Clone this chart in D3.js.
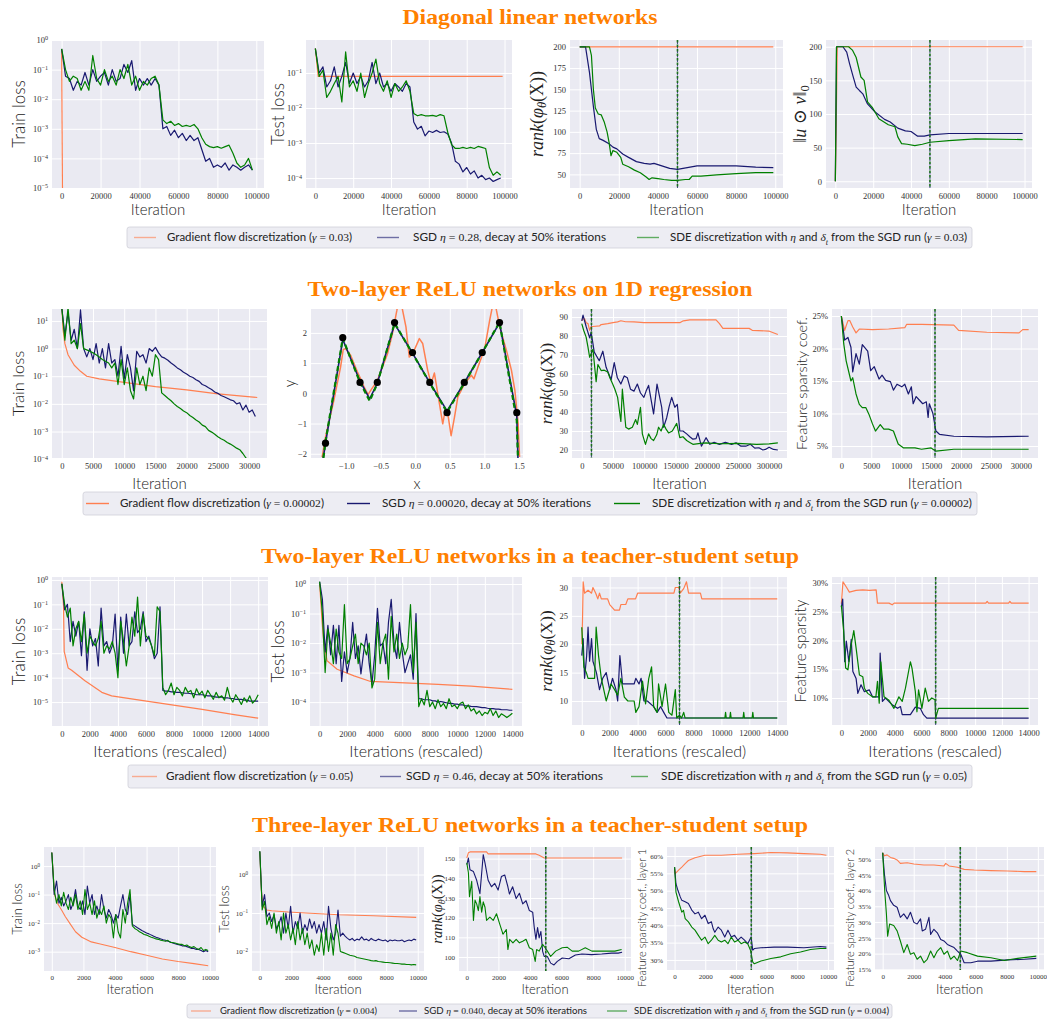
<!DOCTYPE html>
<html>
<head>
<meta charset="utf-8">
<title>GF vs SGD vs SDE</title>
<script src="https://cdn.jsdelivr.net/npm/d3@7"></script>
<style>body{margin:0;background:#fff}</style>
</head>
<body>
<svg id="mainsvg" width="1047" height="1019"></svg>
<script>
// ---------------- data ----------------
// legend parameters per row
const rowTitles = ['Diagonal linear networks', 'Two-layer ReLU networks on 1D regression',
  'Two-layer ReLU networks in a teacher-student setup', 'Three-layer ReLU networks in a teacher-student setup'];
const legendGamma = ['0.03', '0.00002', '0.05', '0.004'];
const legendEta = ['0.28', '0.00020', '0.46', '0.040'];

// tick labels
const ticks100k = [0, 20000, 40000, 60000, 80000, 100000];
const ticks30k = [0, 5000, 10000, 15000, 20000, 25000, 30000];
const ticks300k = [0, 50000, 100000, 150000, 200000, 250000, 300000];
const ticks14k = [0, 2000, 4000, 6000, 8000, 10000, 12000, 14000];
const ticks10k = [0, 2000, 4000, 6000, 8000, 10000];
const ticksRegX = [-1, -0.5, 0, 0.5, 1, 1.5];

// row 1: diagonal linear networks (noisy series every 2000 iterations)
const dlnStep = 2000;
const dlnTrainGf = [[0, 0.5], [600, 1e-7]];
const dlnTrainSgd = [0.5, 0.06, 0.05, 0.02, 0.04, 0.03, 0.08, 0.03, 0.1, 0.04,
  0.06, 0.08, 0.03, 0.1, 0.04, 0.05, 0.15, 0.08, 0.2, 0.02,
  0.05, 0.03, 0.05, 0.03, 0.05, 0.03, 1e-3, 1.2e-3, 6e-4, 9e-4,
  5e-4, 7e-4, 4e-4, 6e-4, 4e-4, 5e-4, 2e-4, 8e-5, 1e-4, 5e-5,
  6e-5, 5e-5, 7e-5, 4e-5, 6e-5, 5e-5, 4e-5, 5e-5, 6e-5, 4e-5];
const dlnTrainSde = [0.5, 0.1, 0.04, 0.06, 0.05, 0.02, 0.04, 0.02, 0.3, 0.05,
  0.03, 0.1, 0.04, 0.06, 0.03, 0.1, 0.05, 0.15, 0.03, 0.06,
  0.02, 0.04, 0.03, 0.05, 0.06, 0.03, 2e-3, 1.5e-3, 1.8e-3, 1.3e-3,
  1.5e-3, 1.2e-3, 1.3e-3, 1.2e-3, 1.4e-3, 1e-3, 5e-4, 3e-4, 2.5e-4, 2.3e-4,
  2.5e-4, 2.2e-4, 2.5e-4, 2.8e-4, 1.5e-4, 7e-5, 5e-5, 6e-5, 1e-4, 4e-5];
const dlnTestGf = [[0, 0.5], [1500, 0.08], [99000, 0.08]];
const dlnTestSgd = [0.5, 0.1, 0.15, 0.04, 0.06, 0.15, 0.04, 0.08, 0.2, 0.05,
  0.1, 0.05, 0.08, 0.04, 0.06, 0.2, 0.05, 0.1, 0.04, 0.05,
  0.03, 0.05, 0.04, 0.03, 0.05, 0.04, 4e-3, 2.5e-3, 3e-3, 1.6e-3,
  2.2e-3, 2e-3, 2.3e-3, 2e-3, 2.1e-3, 1.8e-3, 1e-3, 3e-4, 2.5e-4, 1.5e-4,
  2e-4, 1.3e-4, 1.6e-4, 1e-4, 1.2e-4, 9e-5, 1e-4, 8e-5, 9e-5, 1e-4];
const dlnTestSde = [0.5, 0.08, 0.12, 0.02, 0.03, 0.05, 0.08, 0.015, 0.4, 0.04,
  0.06, 0.03, 0.1, 0.02, 0.05, 0.1, 0.25, 0.05, 0.03, 0.06,
  0.02, 0.05, 0.03, 0.04, 0.06, 0.03, 7e-3, 6e-3, 6.5e-3, 6e-3,
  6e-3, 6.2e-3, 5.8e-3, 6.5e-3, 6e-3, 2e-3, 9e-4, 7e-4, 7e-4, 7.5e-4,
  7e-4, 7.5e-4, 7e-4, 8e-4, 7.5e-4, 7e-4, 2e-4, 1.2e-4, 1.5e-4, 1.2e-4];
const dlnRankGf = [[0, 200], [99000, 200]];
const dlnRankSgd = [[0, 200], [3000, 200], [5000, 170], [7000, 130], [8500, 103], [10000, 92], [12000, 90],
  [15000, 86], [17000, 82], [19000, 80], [22000, 74], [25000, 70], [29000, 65], [33000, 63], [36000, 62],
  [38000, 63], [42000, 60], [46000, 57], [50000, 56], [55000, 58], [60000, 60], [70000, 60], [80000, 60],
  [90000, 58.5], [99000, 58]];
const dlnRankSde = [[0, 200], [5000, 200], [6000, 190], [7000, 150], [8000, 128], [9500, 121], [11000, 120],
  [12500, 112], [14000, 100], [15000, 88], [16000, 72], [17000, 78], [19000, 76], [21000, 70], [22000, 62],
  [25000, 59], [28000, 55], [31000, 52], [34000, 47], [35500, 44], [37000, 46], [40000, 45], [43000, 44],
  [47000, 43], [50000, 43], [54000, 44], [56000, 44], [57500, 48], [62000, 48], [70000, 49.5], [80000, 51],
  [90000, 52], [99000, 52]];
const dlnNormGf = [[0, 0], [1000, 200], [99000, 200]];
const dlnNormSgd = [[0, 0], [600, 200], [4000, 200], [6000, 192], [7500, 175], [9250, 157], [11000, 140],
  [12700, 135], [14500, 130], [17000, 115], [21000, 103], [26000, 92], [29000, 88], [33000, 79], [37000, 75],
  [40000, 74], [43500, 67], [47000, 67], [50000, 69], [60000, 71], [80000, 71], [99000, 71]];
const dlnNormSde = [[0, 0], [600, 200], [7000, 200], [9000, 195], [11000, 184], [13500, 155], [15200, 150],
  [17000, 118], [19500, 110], [23000, 93], [28000, 84], [31500, 81], [33000, 66], [35000, 56], [38000, 55],
  [42000, 53], [46000, 55], [50000, 58], [60000, 60.5], [74000, 63], [99000, 62]];

// row 2: two-layer ReLU, 1D regression (train loss every 500 iterations)
const regStep = 500;
const regTrainGf = [[0, 40], [200, 5], [500, 1.5], [1000, 0.6], [2000, 0.25], [3000, 0.15], [4000, 0.1],
  [6000, 0.08], [10000, 0.06], [15000, 0.042], [20000, 0.032], [25000, 0.023], [31300, 0.017]];
const regTrainSgd = [30, 3, 20, 2, 5, 1, 25, 1, 0.5, 1,
  0.4, 1.5, 0.3, 1, 0.2, 1.5, 0.3, 0.4, 0.1, 1.2,
  0.08, 0.6, 0.2, 0.03, 0.8, 0.5, 0.6, 0.3, 1, 0.8,
  1.1, 0.7, 0.5, 0.45, 0.38, 0.3, 0.25, 0.2, 0.17, 0.14,
  0.12, 0.1, 0.09, 0.075, 0.065, 0.05, 0.045, 0.038, 0.033, 0.027,
  0.024, 0.02, 0.018, 0.016, 0.014, 0.013, 0.01, 0.011, 0.006, 0.009,
  0.005, 0.006, 0.0035];
const regTrainSde = [30, 2, 30, 1.5, 2, 1, 8, 1, 0.9, 0.8,
  0.7, 0.6, 0.5, 0.4, 0.35, 0.3, 0.2, 0.3, 0.05, 0.4,
  0.05, 0.2, 0.03, 0.015, 0.2, 0.05, 0.1, 0.03, 0.2, 0.1,
  0.6, 0.4, 0.025, 0.02, 0.016, 0.013, 0.01, 0.008, 0.0068, 0.0055,
  0.0048, 0.0038, 0.0032, 0.0026, 0.0022, 0.0017, 0.0015, 0.0011, 0.00095, 0.0008,
  0.00065, 0.00055, 0.00048, 0.0004, 0.00035, 0.0003, 0.00025, 0.00022, 0.00016, 0.00011,
  0.000095, 0.00008, 0.00006];
const regPointsX = [-1.30, -1.05, -0.80, -0.55, -0.30, -0.04, 0.21, 0.46, 0.71, 0.97, 1.22, 1.47];
const regPointsY = [-1.65, 1.84, 0.36, 0.36, 2.34, 1.35, 0.36, -0.64, 0.36, 1.35, 2.34, -0.64];
const regFitGf = [[-1.349, -2.11], [-1.30, -1.45], [-1.179, -0.23], [-1.082, 0.87], [-1.043, 1.45], [-1.009, 1.48],
  [-0.936, 1.26], [-0.839, 0.71], [-0.791, 0.48], [-0.742, 0.21], [-0.684, -0.04], [-0.645, 0.10], [-0.548, 0.43],
  [-0.402, 1.31], [-0.33, 1.98], [-0.266, 2.75], [-0.23, 3.3], [-0.184, 2.75], [-0.135, 2.2], [-0.087, 1.2],
  [-0.038, 1.31], [0.059, 1.81], [0.107, 1.65], [0.18, 0.76], [0.229, 0.32], [0.277, 0.67], [0.326, -0.01],
  [0.398, -1.01], [0.432, -0.57], [0.471, -0.68], [0.519, -1.40], [0.568, -0.79], [0.617, -0.12], [0.714, 0.32],
  [0.811, 0.60], [0.85, 0.48], [0.908, 0.87], [1.005, 1.48], [1.078, 2.42], [1.126, 2.97], [1.15, 3.1],
  [1.175, 2.75], [1.223, 2.2], [1.32, 1.42], [1.393, 0.76], [1.442, 0.10], [1.49, -1.01], [1.51, -2.11]];
const regFitSgd = [[-1.35, -2.4], [-1.30, -1.65], [-1.05, 1.78], [-0.80, 0.40], [-0.66, -0.18], [-0.55, 0.33],
  [-0.30, 2.30], [-0.04, 1.33], [0.21, 0.35], [0.46, -0.58], [0.71, 0.35], [0.97, 1.35], [1.22, 2.33],
  [1.47, -0.75], [1.49, -2.4]];
const regFitSde = [[-1.345, -2.4], [-1.30, -1.6], [-1.05, 1.82], [-0.80, 0.36], [-0.66, -0.25], [-0.55, 0.32],
  [-0.30, 2.32], [-0.04, 1.32], [0.21, 0.34], [0.46, -0.62], [0.71, 0.34], [0.97, 1.35], [1.22, 2.35],
  [1.47, -0.9], [1.49, -2.4]];
const regRankGf = [[0, 88], [2100, 89], [4700, 89], [7000, 87], [10000, 86.5], [12600, 83], [15000, 85], [17900, 85],
  [28400, 85.3], [31000, 86], [41600, 86.5], [50000, 87], [57400, 87.4], [62600, 88], [70000, 87.5], [83700, 87.4],
  [99500, 87], [157000, 87], [162600, 88], [173000, 88.5], [215000, 88.5], [220500, 86.5], [226000, 84],
  [268000, 84], [273000, 83], [299500, 82.6], [314000, 80.8]];
const regRankSgd = [[0, 88], [2000, 91], [7000, 85], [12600, 79], [15000, 82], [20000, 71.5], [28000, 67], [33700, 72],
  [39000, 63.5], [47000, 57], [52000, 66], [57000, 58], [62600, 54.7], [68000, 59], [73000, 58], [78000, 52],
  [83700, 51], [89000, 54.7], [94000, 50], [99500, 47.7], [103000, 51], [107000, 54], [115000, 39], [120500, 54.7],
  [128000, 42.5], [131000, 32], [136000, 37], [140000, 43], [144000, 47.7], [149000, 42.5], [153000, 44],
  [157000, 30], [162000, 30], [168000, 28.5], [173000, 27], [178000, 25.7], [183000, 26], [186000, 29],
  [191600, 22], [195000, 24], [199000, 26.5], [205000, 23], [212000, 24], [220500, 23], [230000, 24],
  [240000, 23], [247000, 23.8], [255000, 22], [262600, 22], [270000, 23], [277000, 21], [283700, 21.2],
  [290000, 20], [294000, 20.3], [300000, 21.5], [307000, 20.3], [314000, 20]];
const regRankSde = [[0, 86.5], [3000, 83], [7000, 79.4], [10000, 74], [12600, 68.8], [17900, 73], [23000, 56],
  [25800, 65], [31000, 61.8], [36000, 62], [41600, 61], [45000, 58], [49500, 54.7], [53000, 52], [57400, 47.7],
  [62600, 35], [65000, 52], [70500, 32], [75000, 31], [81000, 32], [86300, 36], [89000, 33.5], [94000, 42.5],
  [97000, 28.5], [102000, 23], [107000, 28.5], [111000, 26], [115000, 25], [120000, 28], [123000, 32],
  [127000, 30], [131000, 33.5], [135000, 31], [139000, 29], [145000, 30], [152000, 34], [157000, 26.5],
  [162000, 27], [168000, 25], [173000, 24], [178000, 23], [190000, 23.5], [199000, 23.8], [220000, 23.3],
  [250000, 23.5], [280000, 23], [300000, 23.2], [314000, 23.8]];
const regSparseGf = [[0, 25], [550, 22.8], [1100, 24.3], [1400, 24.3], [1900, 23.3], [2450, 22.4], [3000, 23],
  [5200, 22.9], [7900, 23], [10600, 23.2], [10900, 23.7], [13400, 23.7], [18800, 23.6], [19600, 22.8],
  [24300, 22.5], [29700, 22.4], [30300, 22.9], [31300, 22.9]];
const regSparseSgd = [[0, 25], [550, 21.3], [1100, 21.7], [1600, 20.2], [1900, 16.4], [2450, 19.2], [3000, 17.6],
  [3500, 20.6], [4400, 19.6], [4900, 16.6], [5500, 17.2], [6300, 15.3], [6800, 15.9], [7400, 15.1], [8200, 14.9],
  [8700, 13.6], [9300, 14.5], [10100, 14.1], [10600, 14.5], [11200, 13], [11700, 14.1], [12000, 11.5],
  [12500, 12.6], [13100, 12], [13600, 11.5], [14200, 11.8], [14500, 9.4], [14700, 11.5], [15300, 10],
  [15800, 7.3], [16400, 6.8], [18800, 6.5], [24300, 6.4], [31300, 6.5]];
const regSparseSde = [[0, 25], [400, 20.7], [800, 18.1], [1600, 15], [1900, 15.5], [2450, 13], [3000, 11.4],
  [3500, 10.9], [4100, 10.9], [4600, 9.9], [5200, 8.4], [5700, 7.3], [6500, 8.3], [7100, 7.6], [7900, 7.6],
  [8700, 7.3], [9500, 5.3], [10400, 4.7], [12300, 4.7], [13400, 4.5], [15000, 4.7], [15800, 4.2],
  [18800, 4.5], [31300, 4.5]];

// row 3: two-layer ReLU, teacher-student (losses every 200 rescaled iterations)
const tsStep = 200;
const tsTrainGf = [[0, 0.85], [120, 0.09], [170, 1.2e-3], [450, 2.5e-4], [700, 2e-4], [1650, 7.5e-5],
  [2850, 2.5e-5], [3550, 1.8e-5], [5200, 1.3e-5], [7600, 8e-6], [10000, 5e-6], [12400, 3e-6], [14000, 2.2e-6]];
const tsTrainSgd = [0.7, 0.06, 0.1, 0.003, 0.02, 0.005, 0.02, 0.0008, 0.05, 0.0002,
  0.01, 0.002, 0.004, 0.0003, 0.07, 0.002, 0.003, 0.001, 0.002, 0.04,
  0.0002, 0.03, 0.001, 0.04, 0.002, 0.003, 0.05, 0.007, 0.01, 0.05,
  0.003, 0.005, 0.002, 0.0006, 0.001, 0.08, 3e-5, 2.8e-5, 2.8e-5, 2.6e-5,
  2.6e-5, 2.5e-5, 2.5e-5, 2.4e-5, 2.3e-5, 2.3e-5, 2.2e-5, 2.2e-5, 2e-5, 2e-5,
  2e-5, 1.9e-5, 1.8e-5, 1.8e-5, 1.7e-5, 1.6e-5, 1.6e-5, 1.6e-5, 1.5e-5, 1.5e-5,
  1.4e-5, 1.4e-5, 1.3e-5, 1.3e-5, 1.3e-5, 1.2e-5, 1.2e-5, 1.1e-5, 1.1e-5, 1.1e-5,
  1.1e-5];
const tsTrainSde = [0.7, 0.1, 0.03, 0.07, 0.002, 0.01, 0.02, 0.003, 0.04, 0.001,
  0.005, 0.003, 0.002, 0.004, 0.02, 0.001, 0.002, 0.0015, 0.003, 0.001,
  0.0001, 0.02, 0.003, 0.0003, 0.002, 0.03, 0.005, 0.2, 0.002, 0.04,
  0.005, 0.004, 0.002, 0.0008, 0.08, 0.05, 4e-5, 2e-5, 3e-5, 6e-5,
  2e-5, 4e-5, 3e-5, 1.8e-5, 4e-5, 2.5e-5, 3e-5, 1.5e-5, 3.5e-5, 2e-5,
  2.8e-5, 1.5e-5, 3e-5, 2e-5, 1.3e-5, 2.5e-5, 1.5e-5, 1.8e-5, 1.2e-5, 4e-5,
  1.5e-5, 1e-5, 2e-5, 1.3e-5, 8e-6, 1.5e-5, 1e-5, 1.8e-5, 9e-6, 1.2e-5,
  2e-5];
const tsTestGf = [[0, 1], [170, 0.06], [300, 0.011], [540, 2.5e-3], [1270, 1.3e-3], [2500, 7.7e-4], [3700, 5e-4],
  [6200, 4.5e-4], [8600, 4e-4], [11000, 3.5e-4], [14000, 2.7e-4]];
const tsTestSgd = [1.2, 0.3, 0.005, 0.04, 0.004, 0.04, 0.002, 0.04, 0.0005, 0.005,
  0.001, 0.003, 0.05, 0.003, 0.008, 0.0009, 0.005, 0.02, 0.002, 0.0004,
  0.004, 0.15, 0.008, 0.01, 0.002, 0.05, 0.3, 0.01, 0.003, 0.05,
  0.005, 0.001, 0.002, 0.004, 0.0006, 0.1, 1.3e-4, 1.3e-4, 1.2e-4, 1.2e-4,
  1.2e-4, 1.1e-4, 1.1e-4, 1e-4, 1.05e-4, 1e-4, 9.5e-5, 9e-5, 9e-5, 8.5e-5,
  8.5e-5, 8e-5, 8e-5, 7.5e-5, 7.5e-5, 7.2e-5, 7e-5, 7e-5, 6.8e-5, 6.5e-5,
  6.5e-5, 6.2e-5, 6e-5, 6e-5, 5.8e-5, 5.8e-5, 5.6e-5, 5.5e-5, 5.5e-5, 5.3e-5,
  5.3e-5];
const tsTestSde = [1.2, 0.1, 0.001, 0.03, 0.01, 0.002, 0.03, 0.005, 0.003, 0.2,
  0.002, 0.003, 0.008, 0.02, 0.002, 0.01, 0.008, 0.004, 0.01, 0.0003,
  0.0006, 0.05, 0.002, 0.01, 0.02, 0.0006, 0.08, 0.005, 0.02, 0.003,
  0.01, 0.004, 0.007, 0.2, 0.001, 0.05, 7e-5, 1.3e-4, 8e-5, 2.5e-4,
  7e-5, 1e-4, 6e-5, 1.2e-4, 7e-5, 9e-5, 6e-5, 1.3e-4, 7e-5, 8e-5,
  6e-5, 9e-5, 1e-4, 6e-5, 8e-5, 5e-5, 6e-5, 4e-5, 5e-5, 3.5e-5,
  4.5e-5, 4e-5, 6e-5, 3.5e-5, 5e-5, 3e-5, 4e-5, 3.5e-5, 3e-5, 3.5e-5,
  4.2e-5];
const tsRankGf = [[0, 20], [50, 24], [100, 31], [200, 29], [450, 29.5], [700, 29], [800, 30], [1000, 29], [1150, 28],
  [1270, 29], [1400, 28], [1850, 28], [2000, 27], [2350, 26], [2700, 26], [2800, 27], [3150, 27], [3300, 28],
  [3850, 28], [4000, 29], [6600, 29], [6700, 30], [6950, 30], [7050, 29], [7300, 29.8], [7500, 31], [7650, 29],
  [8500, 29], [8600, 28], [14000, 28]];
const tsRankSgd = [[0, 18], [100, 21], [200, 14], [350, 18], [450, 23], [560, 17], [700, 21], [800, 17], [1050, 15],
  [1270, 12], [1500, 14], [1750, 15], [2000, 12], [2200, 14], [2450, 12], [2570, 10], [2730, 18], [2920, 13],
  [3300, 13], [3750, 13], [3870, 14], [4100, 13], [4250, 14], [4450, 10], [4700, 10], [5150, 9], [5400, 8],
  [5650, 9], [5870, 8], [6100, 7], [14000, 7]];
const tsRankSde = [[0, 23], [150, 16], [330, 15], [450, 14], [920, 14], [1030, 23], [1200, 18], [1400, 14],
  [1750, 10], [2100, 13], [2350, 12], [2570, 11], [2800, 14], [3050, 10.7], [3300, 10], [3750, 10], [3870, 8],
  [4100, 9], [4350, 13.5], [4570, 9.5], [4800, 14], [5000, 16], [5150, 9], [5400, 8], [5500, 13], [5750, 9],
  [6000, 13], [6230, 8], [6460, 7.5], [6700, 12], [6800, 7], [7000, 7.5], [7150, 7], [7300, 8], [7400, 7],
  [10250, 7], [10300, 8], [10350, 7], [10600, 7], [10650, 8], [10700, 7], [11550, 7], [11600, 8], [11650, 7],
  [12200, 7], [12250, 8], [12300, 7], [14000, 7]];
const tsSparseGf = [[0, 26.4], [120, 30.2], [370, 29.3], [600, 28.4], [1100, 28.7], [1600, 28.8], [2100, 28.7],
  [2600, 28.8], [2700, 26.5], [3560, 26.5], [3800, 26.2], [3950, 26.5], [10800, 26.5], [10900, 26.8],
  [11000, 26.5], [12500, 26.5], [12600, 26.8], [12700, 26.5], [14000, 26.5]];
const tsSparseSgd = [[0, 25.8], [100, 27.2], [250, 16.3], [370, 19.9], [560, 16.3], [740, 20.2], [860, 14.6],
  [1100, 13.4], [1230, 10.8], [1470, 12.3], [1720, 11.1], [2090, 11.4], [2330, 10.2], [2830, 10.2], [2900, 17.8],
  [3070, 9.4], [3300, 10], [3800, 8.8], [4200, 8.2], [4420, 8.5], [4550, 7.1], [5160, 7.1], [5530, 8.4],
  [5900, 8.2], [6140, 7.1], [6390, 6.5], [7000, 6.5], [14000, 6.5]];
const tsSparseSde = [[0, 26.1], [170, 21.7], [320, 15.2], [490, 14.9], [740, 19.3], [930, 21.7], [1100, 18.7],
  [1350, 14], [1600, 13.7], [1720, 11.7], [1970, 10.8], [2330, 10.2], [2580, 10.2], [2700, 12.9], [2830, 9.1],
  [2950, 16.3], [3190, 10.2], [3560, 9.6], [3930, 8.2], [4300, 10.2], [4550, 9.4], [4790, 11.7], [5160, 16.3],
  [5280, 15.2], [5530, 11.1], [5650, 7.6], [5770, 11.4], [6020, 8.2], [6270, 11.7], [6510, 9.4], [6760, 10],
  [7000, 9.7], [7050, 6.5], [7250, 8.2], [14000, 8.2]];

// row 4: three-layer ReLU, teacher-student (losses every 150 iterations)
const tlStep = 150;
const tlTrainGf = [[0, 3], [100, 0.4], [170, 0.1], [350, 0.05], [600, 0.03], [850, 0.017], [1130, 0.01],
  [1500, 0.005], [1900, 0.0032], [2500, 0.0022], [3000, 0.0019], [4000, 0.0014], [5000, 0.001],
  [6000, 0.00075], [7000, 0.00055], [8000, 0.00045], [9000, 0.00038], [9900, 0.00032]];
const tlTrainSgd = [3, 0.1, 0.3, 0.05, 0.08, 0.04, 0.06, 0.1, 0.03, 0.05,
  0.15, 0.04, 0.03, 0.06, 0.02, 0.2, 0.05, 0.1, 0.02, 0.04,
  0.02, 0.1, 0.03, 0.015, 0.03, 0.02, 0.01, 0.02, 0.015, 0.04,
  0.1, 0.03, 0.02, 0.1, 0.009, 0.008, 0.007, 0.0062, 0.0055, 0.005,
  0.0045, 0.0042, 0.0038, 0.0035, 0.0032, 0.003, 0.0028, 0.0026, 0.0025, 0.0023,
  0.0022, 0.002, 0.0019, 0.0018, 0.0017, 0.0016, 0.0016, 0.0015, 0.0014, 0.0013,
  0.0013, 0.0012, 0.0012, 0.0011, 0.001, 0.0011, 0.001];
const tlTrainSde = [3, 0.15, 0.05, 0.1, 0.04, 0.12, 0.05, 0.03, 0.08, 0.04,
  0.1, 0.03, 0.06, 0.02, 0.15, 0.03, 0.05, 0.02, 0.06, 0.015,
  0.03, 0.02, 0.04, 0.01, 0.02, 0.015, 0.003, 0.02, 0.005, 0.003,
  0.03, 0.01, 0.05, 0.15, 0.008, 0.0065, 0.0058, 0.005, 0.0045, 0.004,
  0.0038, 0.0035, 0.0032, 0.003, 0.0028, 0.0027, 0.0025, 0.0024, 0.0023, 0.0025,
  0.0021, 0.0021, 0.002, 0.0019, 0.0018, 0.0018, 0.0016, 0.0017, 0.0015, 0.0014,
  0.0015, 0.0013, 0.0012, 0.0014, 0.0011, 0.0012, 0.0011];
const tlTestGf = [[0, 3.9], [100, 0.38], [200, 0.15], [430, 0.12], [750, 0.115], [1800, 0.106], [2900, 0.1],
  [5000, 0.09], [7200, 0.085], [9900, 0.077]];
const tlTestSgd = [4, 0.15, 0.3, 0.08, 0.1, 0.06, 0.09, 0.04, 0.05, 0.08,
  0.03, 0.1, 0.04, 0.15, 0.03, 0.06, 0.04, 0.1, 0.03, 0.05,
  0.035, 0.07, 0.04, 0.06, 0.03, 0.05, 0.03, 0.06, 0.02, 0.15,
  0.04, 0.02, 0.03, 0.12, 0.025, 0.03, 0.025, 0.022, 0.02, 0.022,
  0.019, 0.021, 0.02, 0.024, 0.02, 0.021, 0.019, 0.022, 0.02, 0.019,
  0.021, 0.02, 0.019, 0.02, 0.018, 0.02, 0.019, 0.02, 0.019, 0.019,
  0.02, 0.018, 0.019, 0.02, 0.019, 0.021, 0.02];
const tlTestSde = [4, 0.12, 0.2, 0.05, 0.08, 0.04, 0.1, 0.03, 0.06, 0.02,
  0.1, 0.03, 0.05, 0.02, 0.04, 0.015, 0.06, 0.02, 0.04, 0.015,
  0.03, 0.012, 0.02, 0.008, 0.015, 0.01, 0.03, 0.008, 0.04, 0.01,
  0.03, 0.008, 0.05, 0.03, 0.01, 0.0095, 0.009, 0.0085, 0.008, 0.0078,
  0.0075, 0.007, 0.0068, 0.0066, 0.0064, 0.0062, 0.006, 0.0058, 0.0057, 0.0058,
  0.0055, 0.0054, 0.0053, 0.0052, 0.0052, 0.0051, 0.005, 0.0049, 0.0049, 0.0048,
  0.0047, 0.0047, 0.0046, 0.0046, 0.0045, 0.0046, 0.0045];
const tlRankGf = [[0, 150.3], [100, 153], [200, 153.4], [1250, 153.4], [1350, 152.4], [4375, 152.4], [4580, 151.7],
  [4900, 150.3], [9830, 150.3]];
const tlRankSgd = [[0, 146.9], [100, 150.3], [200, 144.3], [420, 143.4], [625, 139], [830, 132.2], [1040, 152],
  [1150, 147.8], [1350, 139], [1560, 135.7], [1770, 137.4], [1980, 134], [2190, 140.9], [2400, 141.7],
  [2600, 135.7], [2700, 132], [2900, 135.7], [3125, 129.7], [3330, 132.4], [3540, 127], [3750, 128.6],
  [3960, 123.6], [4170, 122.8], [4270, 115], [4375, 109], [4480, 115], [4580, 109.7], [4690, 113],
  [4800, 102.9], [4900, 100.3], [5100, 100.3], [5310, 96.9], [5520, 96], [5730, 97.8], [6040, 99.5],
  [6460, 99.1], [6875, 101], [7290, 101.5], [7900, 101.2], [8540, 101.5], [9170, 102], [9580, 102], [9830, 102.4]];
const tlRankSde = [[0, 147.8], [100, 142.8], [170, 130.7], [310, 138.5], [420, 118.6], [520, 128.9], [625, 127],
  [730, 123.6], [830, 130.7], [940, 122.8], [1040, 128], [1150, 125.3], [1250, 118.6], [1460, 120.3],
  [1670, 118.6], [1880, 122], [2080, 116.8], [2290, 111.6], [2500, 114], [2600, 103.8], [2710, 109],
  [2920, 107.2], [3125, 109], [3330, 107.2], [3540, 108], [3750, 109], [3960, 104.7], [4170, 103.8],
  [4330, 97.8], [4420, 103.8], [4580, 103], [4800, 106.4], [4960, 104.7], [5100, 103], [5310, 100.3],
  [5625, 103], [6040, 104.7], [6350, 105], [6670, 103], [7080, 103], [7500, 104.7], [7920, 103], [8440, 103],
  [8750, 103], [9375, 103], [9800, 103.8]];
const tlSp1Gf = [[0, 56.3], [40, 54.9], [260, 55.9], [470, 56.8], [690, 57.8], [900, 58.7], [1330, 59.5],
  [1980, 60.2], [3050, 60.2], [4130, 60.5], [5200, 60.7], [6280, 61], [7350, 60.9], [8430, 60.7], [9500, 60.5],
  [9900, 60.2]];
const tlSp1Sgd = [[0, 56.8], [90, 52], [215, 50.1], [370, 48.2], [470, 47.2], [690, 46.8], [900, 46.3], [1120, 44.4],
  [1330, 43.3], [1550, 43.8], [1760, 41.9], [1980, 42.9], [2190, 40.5], [2400, 41], [2520, 39], [2620, 38],
  [2840, 39.5], [3050, 38.6], [3270, 36.6], [3480, 38.6], [3700, 36.6], [3910, 37.1], [4130, 35.7],
  [4340, 36.6], [4560, 35.7], [4770, 34.7], [4990, 36.6], [5100, 32.8], [5200, 33.3], [5630, 33.5],
  [6490, 33.7], [7350, 33.7], [8430, 33.5], [9500, 33.9], [9900, 33.7]];
const tlSp1Sde = [[0, 56.8], [90, 49.6], [260, 46.8], [470, 43.8], [580, 44.3], [690, 41.9], [900, 41], [1120, 39.5],
  [1330, 38.6], [1550, 37.1], [1760, 35.7], [1980, 36.6], [2190, 34.7], [2400, 35.7], [2620, 37.1],
  [2840, 35.7], [3050, 35.2], [3270, 35.7], [3480, 34.7], [3700, 36.6], [3910, 35.2], [4130, 35.7],
  [4340, 34.7], [4560, 35.2], [4770, 34.7], [4950, 32.8], [5100, 29.4], [5200, 28.9], [5630, 29.7],
  [6280, 30.4], [6920, 30.9], [7570, 31.8], [8210, 32.3], [8860, 33], [9500, 33.3], [9900, 33.3]];
const tlSp2Gf = [[0, 52], [110, 51], [280, 51.3], [500, 50.5], [710, 50.2], [930, 49.7], [1140, 48.6], [1580, 48.8],
  [2010, 48.4], [2660, 48.1], [3300, 48.1], [3950, 47.8], [4060, 48.6], [4280, 47.8], [4820, 47.4],
  [5250, 46.7], [5900, 46.5], [6980, 46.3], [8060, 46.2], [9140, 46], [9900, 46]];
const tlSp2Sgd = [[0, 52], [110, 45.3], [240, 40], [390, 38.4], [500, 36.8], [710, 35.3], [930, 34.7], [1140, 31.5],
  [1360, 32.6], [1580, 31], [1790, 33.1], [2010, 29.9], [2220, 29.4], [2440, 31], [2550, 27.2], [2760, 27.7],
  [2980, 31.5], [3090, 26.1], [3300, 27.7], [3520, 26.6], [3740, 24.5], [3950, 24], [4170, 22.9], [4380, 22.4],
  [4600, 21.9], [4820, 20.8], [5030, 19.8], [5250, 17.1], [5680, 17.1], [6110, 17.6], [6980, 17.6],
  [8060, 18], [9140, 18.2], [9900, 18.5]];
const tlSp2Sde = [[0, 52], [130, 40], [240, 32.6], [320, 25.5], [450, 29.4], [710, 28.9], [930, 27.2], [1140, 24],
  [1360, 20.3], [1580, 22.9], [1790, 19.8], [2010, 20.3], [2220, 18.2], [2440, 19.2], [2660, 17.1],
  [2870, 18.2], [3090, 20.8], [3300, 18.7], [3520, 20.8], [3740, 21.9], [3950, 19.8], [4170, 20.8],
  [4380, 18.2], [4600, 19.2], [4820, 17.8], [5030, 20.8], [5460, 20.3], [6110, 19.2], [6980, 18.7],
  [7840, 17.8], [8700, 18.5], [9900, 19.2]];

// ---------------- drawing ----------------
const svg = d3.select('#mainsvg');
const SERIF = "'Liberation Serif', 'DejaVu Serif', serif";
const SANS = "Lato, 'Open Sans', 'DejaVu Sans', sans-serif";
const colGF = '#ff7f50', colSGD = '#191970', colSDE = '#008000';
const colors = [colGF, colSGD, colSDE];

// evenly logged runs -> [iteration, value]
const seq = (step, vals) => vals.map((v, i) => [i * step, v]);
const decades = (a, b) => d3.range(a, b + 1).map(e => Math.pow(10, e));

// rich text: parts = [text, kind]; s sans, i italic serif, r roman serif, b italic sub, n roman sub
function rich(text, parts, fs, sansWeight) {
  let shift = 0;
  parts.forEach(([s, k]) => {
    const sub = k === 'b' || k === 'n';
    const t = text.append('tspan').text(s)
      .attr('font-family', k === 's' ? SANS : SERIF)
      .attr('font-weight', k === 's' ? (sansWeight || 400) : 400)
      .attr('font-style', (k === 'i' || k === 'b') ? 'italic' : 'normal')
      .attr('font-size', sub ? fs * 0.7 : fs);
    const want = sub ? fs * 0.3 : 0;
    if (want !== shift) { t.attr('dy', want - shift); shift = want; }
  });
}

const lblTrain = [['Train loss', 's']];
const lblTest = [['Test loss', 's']];
const lblRank = [['rank', 'i'], ['(', 'r'], ['φ', 'i'], ['θ', 'b'], ['(X))', 'r']];
const lblNorm = [['‖', 'r'], ['u', 'i'], [' ⊙ ', 'r'], ['v', 'i'], ['‖', 'r'], ['0', 'n']];

let clipN = 0;
function drawPanel(p, st) {
  const [l, r, t, b] = p.box;
  const x = d3.scaleLinear().domain(p.xd).range([l, r]);
  const y = (p.log ? d3.scaleLog() : d3.scaleLinear()).domain(p.yd).range([b, t]);
  const g = svg.append('g');
  g.append('rect').attr('x', l).attr('y', t).attr('width', r - l).attr('height', b - t).attr('fill', '#eaeaf2');
  const cid = 'clip' + (clipN++);
  g.append('clipPath').attr('id', cid).append('rect')
    .attr('x', l).attr('y', t).attr('width', r - l).attr('height', b - t);

  const yfmt = p.yf === 'pct' ? (d => d + '%') : d3.format('d');
  const gx = g.append('g').attr('transform', `translate(0,${b})`)
    .call(d3.axisBottom(x).tickValues(p.xt).tickSize(-(b - t)).tickPadding(st.pad).tickFormat(p.xf || d3.format('d')));
  const gy = g.append('g').attr('transform', `translate(${l},0)`)
    .call(d3.axisLeft(y).tickValues(p.yt).tickSize(-(r - l)).tickPadding(4).tickFormat(yfmt));
  [gx, gy].forEach(a => {
    a.select('.domain').remove();
    a.selectAll('.tick line').attr('stroke', '#fff').attr('stroke-width', 1);
    a.selectAll('.tick text').attr('font-family', SERIF).attr('font-size', st.tick).attr('fill', '#333');
  });
  if (p.log) {
    gy.selectAll('.tick text').each(function (d) {
      const e = Math.round(Math.log10(d));
      const s = d3.select(this).text('10');
      s.append('tspan').attr('dy', '-0.45em').attr('font-size', st.tick * 0.72)
        .text(e < 0 ? '−' + (-e) : String(e));
    });
  }

  const line = d3.line().x(d => x(d[0])).y(d => y(d[1]));
  const lines = g.append('g').attr('clip-path', `url(#${cid})`);
  p.series.forEach((s, i) => {
    const path = lines.append('path').datum(s).attr('d', line).attr('fill', 'none')
      .attr('stroke', colors[i]).attr('stroke-width', p.lw ? p.lw[i] : st.lw)
      .attr('stroke-linejoin', 'round');
    if (p.dash && p.dash[i]) path.attr('stroke-dasharray', p.dash[i]);
  });
  if (p.dots) {
    lines.selectAll('circle.pt').data(d3.zip(p.dots[0], p.dots[1])).join('circle')
      .attr('cx', d => x(d[0])).attr('cy', d => y(d[1])).attr('r', 3.6).attr('fill', '#000');
  }
  if (p.vl != null) {
    lines.append('line').attr('x1', x(p.vl)).attr('x2', x(p.vl)).attr('y1', t).attr('y2', b)
      .attr('stroke', colSGD).attr('stroke-width', 0.8).attr('stroke-dasharray', '2,2.5')
      .attr('stroke-dashoffset', 2.5);
    lines.append('line').attr('x1', x(p.vl)).attr('x2', x(p.vl)).attr('y1', t).attr('y2', b)
      .attr('stroke', '#1a6e1a').attr('stroke-width', 1.6).attr('stroke-dasharray', '2.5,2');
  }

  // axis labels
  const xl = svg.append('text').attr('x', (l + r) / 2).attr('y', st.xlY).attr('text-anchor', 'middle')
    .attr('fill', '#222');
  rich(xl, [[p.xl || st.xlText, 's']], st.xl, 300);
  const cy = p.yl.cy != null ? p.yl.cy : (t + b) / 2;
  const yl = svg.append('text').attr('transform', `translate(${p.yl.x},${cy}) rotate(-90)`)
    .attr('text-anchor', 'middle').attr('dominant-baseline', 'central').attr('fill', '#222');
  rich(yl, p.yl.parts, p.yl.fs, 300);
}

function drawLegend(row, L) {
  const [x0, x1, y0, y1] = L.box;
  const cy = (y0 + y1) / 2;
  svg.append('rect').attr('x', x0).attr('y', y0).attr('width', x1 - x0).attr('height', y1 - y0)
    .attr('rx', 2.5).attr('fill', '#ededf3').attr('stroke', '#cfcfd8').attr('stroke-width', 0.8);
  const gm = legendGamma[row], et = legendEta[row];
  const texts = [
    [['Gradient flow discretization (', 's'], ['γ', 'i'], [' = ' + gm, 'r'], [')', 's']],
    [['SGD ', 's'], ['η', 'i'], [' = ' + et, 'r'], [', decay at 50% iterations', 's']],
    [['SDE discretization with ', 's'], ['η', 'i'], [' and ', 's'], ['δ', 'i'], ['t', 'b'],
      [' from the SGD run (', 's'], ['γ', 'i'], [' = ' + gm, 'r'], [')', 's']]
  ];
  L.items.forEach((it, i) => {
    svg.append('line').attr('x1', it[0]).attr('x2', it[1]).attr('y1', cy).attr('y2', cy)
      .attr('stroke', colors[i]).attr('stroke-width', 1.4).attr('stroke-opacity', L.alpha);
    const tx = svg.append('text').attr('x', it[2]).attr('y', cy + L.fs * 0.35).attr('fill', '#222')
      .attr('textLength', it[3] - it[2]).attr('lengthAdjust', 'spacingAndGlyphs');
    rich(tx, texts[i], L.fs, 400);
  });
}

function drawTitle(row, cfg) {
  svg.append('text').attr('x', 530).attr('y', cfg.y).attr('text-anchor', 'middle')
    .attr('font-family', SERIF).attr('font-weight', 'bold').attr('font-size', 22)
    .attr('fill', '#ff8000').attr('textLength', cfg.w).attr('lengthAdjust', 'spacingAndGlyphs')
    .text(rowTitles[row]);
}

const rows = [
  {
    title: {y: 24, w: 255},
    st: {tick: 8.5, pad: 5, xl: 15, xlY: 215, xlText: 'Iteration', lw: 1.2},
    legend: {box: [127, 972, 227, 248], fs: 11, alpha: 0.6,
      items: [[134, 156, 167, 352], [377, 399, 413, 606], [637, 659, 670, 967]]},
    panels: [
      {box: [52, 264, 40, 188], xd: [-4950, 103950], yd: [1e-5, 1], log: true, xt: ticks100k, yt: decades(-5, 0),
        yl: {parts: lblTrain, x: 18, fs: 17},
        series: [dlnTrainGf, seq(dlnStep, dlnTrainSgd), seq(dlnStep, dlnTrainSde)]},
      {box: [306, 512, 40, 188], xd: [-4950, 103950], yd: [5.2e-5, 0.877], log: true, xt: ticks100k, yt: decades(-4, -1),
        yl: {parts: lblTest, x: 277, fs: 17},
        series: [dlnTestGf, seq(dlnStep, dlnTestSgd), seq(dlnStep, dlnTestSde)]},
      {box: [570, 783, 40, 188], xd: [-4950, 103950], yd: [34, 208], xt: ticks100k, yt: [50, 75, 100, 125, 150, 175, 200],
        yl: {parts: lblRank, x: 537, fs: 18}, vl: 50000,
        series: [dlnRankGf, dlnRankSgd, dlnRankSde]},
      {box: [826, 1032, 40, 188], xd: [-4950, 103950], yd: [-10, 210], xt: ticks100k, yt: [0, 50, 100, 150, 200],
        yl: {parts: lblNorm, x: 800, fs: 18}, vl: 50000,
        series: [dlnNormGf, dlnNormSgd, dlnNormSde]}
    ]
  },
  {
    title: {y: 296, w: 445},
    st: {tick: 8.5, pad: 5, xl: 15, xlY: 489, xlText: 'Iteration', lw: 1.2},
    legend: {box: [83, 977, 492, 515], fs: 11, alpha: 1,
      items: [[86, 109, 120, 324], [347, 370, 382, 591], [614, 640, 652, 972]]},
    panels: [
      {box: [52, 267, 309, 458], xd: [-1565, 32865], yd: [1.1e-4, 27], log: true, xt: ticks30k, yt: decades(-4, 1),
        yl: {parts: lblTrain, x: 18, fs: 16.5},
        series: [regTrainGf, seq(regStep, regTrainSgd), seq(regStep, regTrainSde)]},
      {box: [311, 523, 309, 458], xd: [-1.51, 1.56], yd: [-2.14, 2.79], xt: ticksRegX, yt: [-2, -1, 0, 1, 2],
        xf: d3.format('.1f'), xl: 'x', yl: {parts: [['y', 's']], x: 289, fs: 15},
        lw: [1.5, 1.6, 2.2], dash: [null, null, '5,3'], dots: [regPointsX, regPointsY],
        series: [regFitGf, regFitSgd, regFitSde]},
      {box: [572, 787, 309, 458], xd: [-15650, 328650], yd: [15.8, 94.2], xt: ticks300k,
        yt: [20, 30, 40, 50, 60, 70, 80, 90], yl: {parts: lblRank, x: 546, fs: 17}, vl: 15500,
        series: [regRankGf, regRankSgd, regRankSde]},
      {box: [832, 1038, 309, 458], xd: [-1565, 32865], yd: [3.15, 26.08], xt: ticks30k, yt: [5, 10, 15, 20, 25], yf: 'pct',
        yl: {parts: [['Feature sparsity coef.', 's']], x: 801, fs: 14.5}, vl: 15650,
        series: [regSparseGf, regSparseSgd, regSparseSde]}
    ]
  },
  {
    title: {y: 563, w: 538},
    st: {tick: 8.5, pad: 5, xl: 16, xlY: 757, xlText: 'Iterations (rescaled)', lw: 1.2},
    legend: {box: [128, 972, 765, 788], fs: 11, alpha: 0.6,
      items: [[132, 157, 166, 353], [380, 401, 406, 603], [631, 648, 661, 967]]},
    panels: [
      {box: [52, 268, 577, 726], xd: [-700, 14700], yd: [1.05e-6, 1.32], log: true, xt: ticks14k, yt: decades(-5, 0),
        yl: {parts: lblTrain, x: 18, fs: 17},
        series: [tsTrainGf, seq(tsStep, tsTrainSgd), seq(tsStep, tsTrainSde)]},
      {box: [310, 522, 577, 726], xd: [-700, 14700], yd: [1.55e-5, 1.73], log: true, xt: ticks14k, yt: decades(-4, 0),
        yl: {parts: lblTest, x: 277, fs: 17},
        series: [tsTestGf, seq(tsStep, tsTestSgd), seq(tsStep, tsTestSde)]},
      {box: [572, 787, 577, 725], xd: [-700, 14700], yd: [5.77, 31.85], xt: ticks14k, yt: [10, 15, 20, 25, 30],
        yl: {parts: lblRank, x: 546, fs: 17}, vl: 7000,
        series: [tsRankGf, tsRankSgd, tsRankSde]},
      {box: [832, 1038, 577, 725], xd: [-700, 14700], yd: [5.3, 31.04], xt: ticks14k, yt: [10, 15, 20, 25, 30], yf: 'pct',
        yl: {parts: [['Feature sparsity', 's']], x: 800, fs: 15}, vl: 7050,
        series: [tsSparseGf, tsSparseSgd, tsSparseSde]}
    ]
  },
  {
    title: {y: 832, w: 556},
    st: {tick: 7, pad: 4, xl: 13, xlY: 994, xlText: 'Iteration', lw: 1.1},
    legend: {box: [187, 892, 1004, 1018], fs: 9, alpha: 0.6,
      items: [[191, 211, 220, 377], [399, 417, 424, 587], [607, 627, 634, 889]]},
    panels: [
      {box: [44, 216, 847, 971], xd: [-495, 10395], yd: [2.1e-4, 4.65], log: true, xt: ticks10k, yt: decades(-3, 0),
        yl: {parts: lblTrain, x: 17, fs: 13},
        series: [tlTrainGf, seq(tlStep, tlTrainSgd), seq(tlStep, tlTrainSde)]},
      {box: [252, 424, 847, 971], xd: [-495, 10395], yd: [3.12e-3, 5.18], log: true, xt: ticks10k, yt: decades(-2, 0),
        yl: {parts: lblTest, x: 224, fs: 13},
        series: [tlTestGf, seq(tlStep, tlTestSgd), seq(tlStep, tlTestSde)]},
      {box: [459, 631, 847, 971], xd: [-495, 10395], yd: [92.9, 155.9], xt: ticks10k,
        yt: [100, 110, 120, 130, 140, 150], yl: {parts: lblRank, x: 437, fs: 14.5}, vl: 5000,
        series: [tlRankGf, tlRankSgd, tlRankSde]},
      {box: [667, 834, 847, 970], xd: [-495, 10395], yd: [27.1, 62.6], xt: ticks10k,
        yt: [30, 35, 40, 45, 50, 55, 60], yf: 'pct', vl: 5000,
        yl: {parts: [['Feature sparsity coef., layer 1', 's']], x: 641, fs: 11, cy: 918},
        series: [tlSp1Gf, tlSp1Sgd, tlSp1Sde]},
      {box: [875, 1044, 847, 970], xd: [-495, 10395], yd: [14.8, 53.8], xt: ticks10k,
        yt: [15, 20, 25, 30, 35, 40, 45, 50], yf: 'pct', vl: 5000,
        yl: {parts: [['Feature sparsity coef., layer 2', 's']], x: 849, fs: 11, cy: 918},
        series: [tlSp2Gf, tlSp2Sgd, tlSp2Sde]}
    ]
  }
];

rows.forEach((row, i) => {
  drawTitle(i, row.title);
  row.panels.forEach(p => drawPanel(p, row.st));
  drawLegend(i, row.legend);
});
</script>
</body>
</html>
